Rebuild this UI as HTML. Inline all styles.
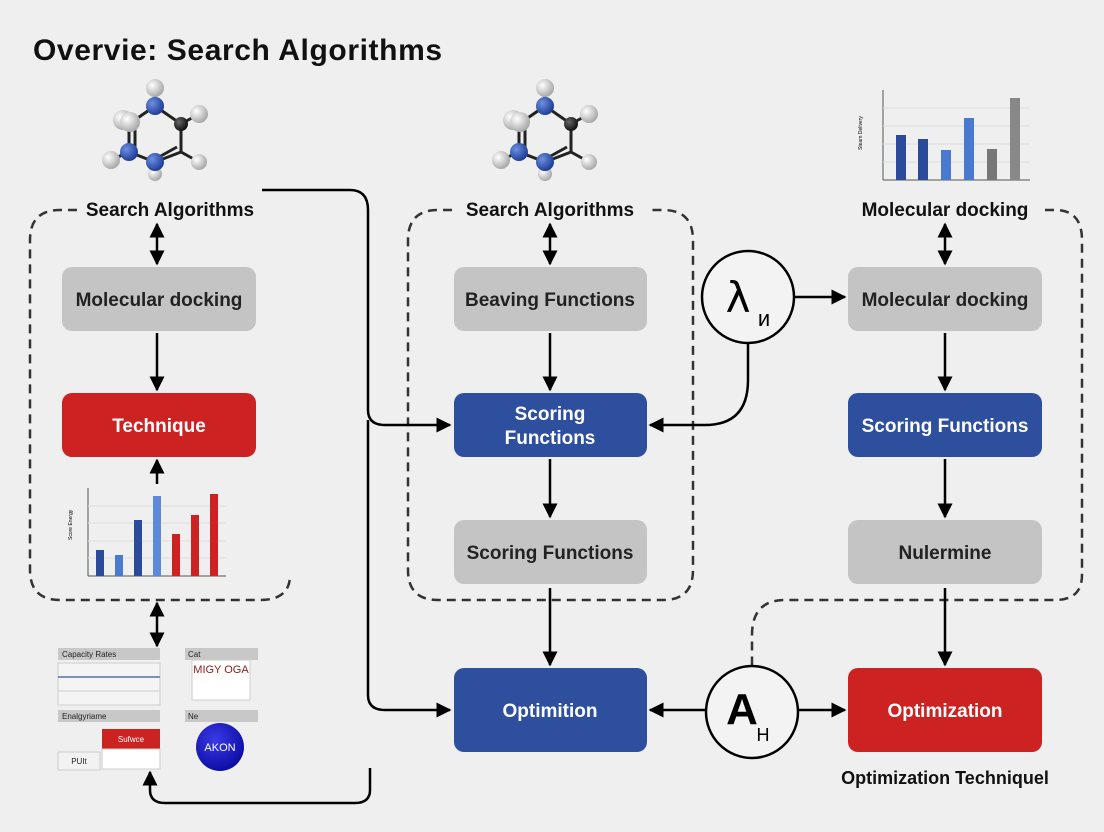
<!DOCTYPE html>
<html><head><meta charset="utf-8"><style>
html,body{margin:0;padding:0;background:#efefef;}
svg{display:block;font-family:"Liberation Sans",sans-serif;}
</style></head><body>
<svg width="1104" height="832" viewBox="0 0 1104 832" xmlns="http://www.w3.org/2000/svg">
<defs>
<marker id="ah" viewBox="0 0 10 10" refX="9" refY="5" markerWidth="6" markerHeight="6" orient="auto-start-reverse"><path d="M0,0 L10,5 L0,10 z" fill="#000"/></marker>
<radialGradient id="wb" cx="35%" cy="35%" r="65%"><stop offset="0" stop-color="#fff"/><stop offset="1" stop-color="#aaa"/></radialGradient>
<radialGradient id="bb" cx="35%" cy="35%" r="65%"><stop offset="0" stop-color="#6f8fe0"/><stop offset="1" stop-color="#1f3f9a"/></radialGradient>
<radialGradient id="kb" cx="35%" cy="35%" r="65%"><stop offset="0" stop-color="#666"/><stop offset="1" stop-color="#111"/></radialGradient>
<radialGradient id="btn" cx="40%" cy="35%" r="70%"><stop offset="0" stop-color="#3a3ae8"/><stop offset="1" stop-color="#0a0aa0"/></radialGradient>
<g id="mol">
<g stroke="#222" stroke-width="3">
<line x1="0" y1="-26" x2="26" y2="-8"/><line x1="26" y1="-8" x2="26" y2="20"/><line x1="26" y1="20" x2="0" y2="30"/>
<line x1="0" y1="30" x2="-26" y2="20"/><line x1="-26" y1="20" x2="-26" y2="-8"/><line x1="-26" y1="-8" x2="0" y2="-26"/>
<line x1="-20" y1="18" x2="-20" y2="-6"/><line x1="4" y1="25" x2="22" y2="15"/>
<line x1="0" y1="-26" x2="0" y2="-44"/><line x1="26" y1="-8" x2="44" y2="-18"/><line x1="26" y1="20" x2="44" y2="30"/><line x1="-26" y1="20" x2="-44" y2="28"/>
</g>
<circle cx="0" cy="-44" r="9" fill="url(#wb)"/><circle cx="44" cy="-18" r="9" fill="url(#wb)"/><circle cx="44" cy="30" r="8" fill="url(#wb)"/>
<circle cx="-44" cy="28" r="9" fill="url(#wb)"/><circle cx="-32" cy="-12" r="10" fill="url(#wb)"/><circle cx="-25" cy="-10" r="10" fill="url(#wb)"/><circle cx="0" cy="42" r="7" fill="url(#wb)"/>
<circle cx="0" cy="-26" r="9" fill="url(#bb)"/><circle cx="-26" cy="20" r="9" fill="url(#bb)"/><circle cx="0" cy="30" r="9" fill="url(#bb)"/><circle cx="26" cy="-8" r="7" fill="url(#kb)"/>
</g>
</defs>

<text x="33" y="60" font-size="30" font-weight="bold" fill="#111" letter-spacing="0.6">Overvie: Search Algorithms</text>

<use href="#mol" x="155" y="132"/>
<use href="#mol" x="545" y="132"/>

<g fill="none" stroke="#333" stroke-width="2.5" stroke-dasharray="9,6">
<path d="M77,210 L60,210 Q30,210 30,240 L30,570 Q30,600 60,600 L260,600 Q290,600 290,575"/>
<path d="M452,210 L438,210 Q408,210 408,240 L408,570 Q408,600 438,600 L663,600 Q693,600 693,570 L693,240 Q693,210 663,210 L650,210"/>
<path d="M1045,210 L1055,210 Q1082,210 1082,240 L1082,575 Q1082,600 1055,600 L785,600 Q752,600 752,635 L752,666"/>
</g>

<g font-size="19" fill="#111" text-anchor="middle" font-weight="bold">
<text x="170" y="216">Search Algorithms</text>
<text x="550" y="216">Search Algorithms</text>
<text x="945" y="216">Molecular docking</text>
</g>

<g font-size="19" text-anchor="middle" font-weight="bold">
<rect x="62" y="267" width="194" height="64" rx="10" fill="#c4c4c4"/><text x="159" y="306" fill="#222">Molecular docking</text>
<rect x="62" y="393" width="194" height="64" rx="10" fill="#cc2222"/><text x="159" y="432" fill="#fff">Technique</text>
<rect x="454" y="267" width="193" height="64" rx="10" fill="#c4c4c4"/><text x="550" y="306" fill="#222">Beaving Functions</text>
<rect x="454" y="393" width="193" height="64" rx="10" fill="#2d4f9e"/><text x="550" y="420" fill="#fff">Scoring</text><text x="550" y="444" fill="#fff">Functions</text>
<rect x="454" y="520" width="193" height="64" rx="10" fill="#c4c4c4"/><text x="550" y="559" fill="#222">Scoring Functions</text>
<rect x="454" y="668" width="193" height="84" rx="10" fill="#2d4f9e"/><text x="550" y="717" fill="#fff">Optimition</text>
<rect x="848" y="267" width="194" height="64" rx="10" fill="#c4c4c4"/><text x="945" y="306" fill="#222">Molecular docking</text>
<rect x="848" y="393" width="194" height="64" rx="10" fill="#2d4f9e"/><text x="945" y="432" fill="#fff">Scoring Functions</text>
<rect x="848" y="520" width="194" height="64" rx="10" fill="#c4c4c4"/><text x="945" y="559" fill="#222">Nulermine</text>
<rect x="848" y="668" width="194" height="84" rx="10" fill="#cc2222"/><text x="945" y="717" fill="#fff">Optimization</text>
</g>
<text x="945" y="784" font-size="18" text-anchor="middle" font-weight="bold" fill="#111">Optimization Techniquel</text>

<g stroke="#000" stroke-width="2.5" fill="none" marker-end="url(#ah)">
<line x1="157" y1="224" x2="157" y2="264" marker-start="url(#ah)"/>
<line x1="157" y1="333" x2="157" y2="390"/>
<line x1="157" y1="484" x2="157" y2="460"/>
<line x1="157" y1="603" x2="157" y2="646" marker-start="url(#ah)"/>
<line x1="550" y1="224" x2="550" y2="264" marker-start="url(#ah)"/>
<line x1="550" y1="333" x2="550" y2="390"/>
<line x1="550" y1="459" x2="550" y2="517"/>
<line x1="550" y1="588" x2="550" y2="665"/>
<line x1="945" y1="224" x2="945" y2="264" marker-start="url(#ah)"/>
<line x1="945" y1="333" x2="945" y2="390"/>
<line x1="945" y1="459" x2="945" y2="517"/>
<line x1="945" y1="588" x2="945" y2="665"/>
<line x1="794" y1="297" x2="845" y2="297"/>
<path d="M748,343 L748,380 Q748,425 705,425 L650,425"/>
<line x1="706" y1="710" x2="650" y2="710"/>
<line x1="798" y1="710" x2="845" y2="710"/>
<path d="M262,190 L350,190 Q368,190 368,210 L368,410 Q368,425 385,425 L450,425"/>
<path d="M368,420 L368,695 Q368,710 385,710 L450,710"/>
<path d="M370,768 L370,790 Q370,803 355,803 L165,803 Q150,803 150,790 L150,772"/>
</g>

<circle cx="748" cy="297" r="46" fill="#f3f3f3" stroke="#000" stroke-width="2.5"/>
<text x="738" y="312" font-size="42" text-anchor="middle" font-family="DejaVu Sans,sans-serif">λ</text>
<text x="764" y="326" font-size="22" text-anchor="middle">и</text>
<circle cx="752" cy="712" r="46" fill="#f3f3f3" stroke="#000" stroke-width="2.5"/>
<text x="742" y="724" font-size="44" font-weight="bold" text-anchor="middle">A</text>
<text x="763" y="741" font-size="18" text-anchor="middle">H</text>

<g>
<line x1="88" y1="488" x2="88" y2="576" stroke="#555"/>
<line x1="88" y1="576" x2="226" y2="576" stroke="#555"/>
<g stroke="#ddd"><line x1="88" y1="506" x2="226" y2="506"/><line x1="88" y1="523" x2="226" y2="523"/><line x1="88" y1="541" x2="226" y2="541"/><line x1="88" y1="558" x2="226" y2="558"/></g>
<rect x="96" y="550" width="8" height="26" fill="#2b4b9a"/>
<rect x="115" y="555" width="8" height="21" fill="#4a7ad0"/>
<rect x="134" y="520" width="8" height="56" fill="#2b4b9a"/>
<rect x="153" y="496" width="8" height="80" fill="#5a8ad8"/>
<rect x="172" y="534" width="8" height="42" fill="#cc2222"/>
<rect x="191" y="515" width="8" height="61" fill="#cc2222"/>
<rect x="210" y="494" width="8" height="82" fill="#cc2222"/>
<text x="72" y="540" font-size="5" transform="rotate(-90 72 540)">Score Energy</text>
</g>
<g>
<line x1="883" y1="90" x2="883" y2="180" stroke="#555"/>
<line x1="883" y1="180" x2="1030" y2="180" stroke="#555"/>
<g stroke="#ddd"><line x1="883" y1="108" x2="1030" y2="108"/><line x1="883" y1="126" x2="1030" y2="126"/><line x1="883" y1="144" x2="1030" y2="144"/><line x1="883" y1="162" x2="1030" y2="162"/></g>
<rect x="896" y="135" width="10" height="45" fill="#2b4b9a"/>
<rect x="918" y="139" width="10" height="41" fill="#2b4b9a"/>
<rect x="941" y="150" width="10" height="30" fill="#4a7ad0"/>
<rect x="964" y="118" width="10" height="62" fill="#4a7ad0"/>
<rect x="987" y="149" width="10" height="31" fill="#777"/>
<rect x="1010" y="98" width="10" height="82" fill="#888"/>
<text x="862" y="150" font-size="5" transform="rotate(-90 862 150)">Steam Delivery</text>
</g>

<g font-size="8" fill="#222">
<rect x="58" y="648" width="102" height="12" fill="#c8c8c8"/><text x="62" y="657">Capacity Rates</text>
<rect x="58" y="663" width="102" height="42" fill="#f4f4f4" stroke="#ccc"/>
<line x1="58" y1="677" x2="160" y2="677" stroke="#5570a0" stroke-width="1.5"/>
<line x1="58" y1="691" x2="160" y2="691" stroke="#ccc"/>
<rect x="58" y="710" width="102" height="12" fill="#c8c8c8"/><text x="62" y="719">Enalgyriame</text>
<rect x="102" y="729" width="58" height="20" fill="#cc2222"/><text x="131" y="742" fill="#fff" text-anchor="middle">Sufwce</text>
<rect x="102" y="749" width="58" height="20" fill="#fff" stroke="#ccc"/>
<rect x="58" y="752" width="42" height="18" fill="#f2f2f2" stroke="#ccc"/><text x="79" y="764" text-anchor="middle">PUIt</text>
<rect x="185" y="648" width="73" height="12" fill="#c8c8c8"/><text x="188" y="657">Cat</text>
<rect x="192" y="660" width="58" height="40" fill="#fff" stroke="#ccc"/>
<text x="221" y="673" text-anchor="middle" font-size="11" fill="#8a1a1a">MIGY OGA</text>
<rect x="185" y="710" width="73" height="12" fill="#c8c8c8"/><text x="188" y="719">Ne</text>
<circle cx="220" cy="747" r="24" fill="url(#btn)"/>
<text x="220" y="751" text-anchor="middle" font-size="11" fill="#fff">AKON</text>
</g>
</svg>
</body></html>
